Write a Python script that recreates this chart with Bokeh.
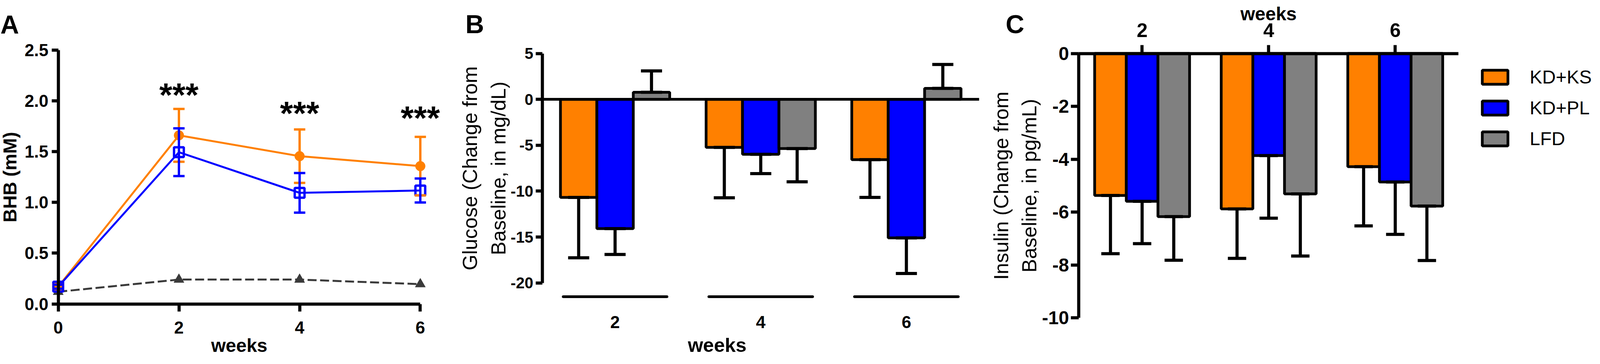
from bokeh.plotting import figure
from bokeh.models import (Range1d, FixedTicker, PrintfTickFormatter, Whisker, TeeHead,
                          ColumnDataSource, Label, Legend, LegendItem, LinearAxis)
from bokeh.transform import dodge
from bokeh.layouts import row
from bokeh.core.properties import value
from bokeh.embed import file_html
from bokeh.resources import INLINE

FONT = "Liberation Sans"
ORANGE = "#FF8000"
BLUE = "#0000FF"
GRAY = "#808080"
DARK = "#3a3a3a"

# ---------------- Panel A data (BHB, mM) ----------------
weeks_a = [0, 2, 4, 6]
bhb_ticks = [0.0, 0.5, 1.0, 1.5, 2.0, 2.5]
bhb_kdks = [0.17, 1.66, 1.455, 1.357]
bhb_kdks_err = [0.02, 0.26, 0.263, 0.288]
bhb_kdpl = [0.17, 1.494, 1.094, 1.117]
bhb_kdpl_err = [0.02, 0.235, 0.195, 0.118]
bhb_lfd = [0.12, 0.24, 0.24, 0.195]
star_weeks = [2, 4, 6]
star_level = [2.107, 1.924, 1.878]
star_text = ["***", "***", "***"]

# ---------------- Panel B data (Glucose change, mg/dL) ----------------
weeks_b = [2, 4, 6]
glu_ticks = [-20, -15, -10, -5, 0, 5]
glu_kdks = [-10.68, -5.23, -6.57]
glu_kdks_err = [6.58, 5.50, 4.11]
glu_kdpl = [-14.09, -5.99, -15.10]
glu_kdpl_err = [2.81, 2.10, 3.88]
glu_lfd = [0.77, -5.36, 1.20]
glu_lfd_err = [2.33, 3.62, 2.60]

# ---------------- Panel C data (Insulin change, pg/mL) ----------------
ins_ticks = [-10, -8, -6, -4, -2, 0]
ins_kdks = [-5.37, -5.88, -4.28]
ins_kdks_err = [2.20, 1.87, 2.24]
ins_kdpl = [-5.59, -3.86, -4.86]
ins_kdpl_err = [1.60, 2.37, 1.98]
ins_lfd = [-6.17, -5.31, -5.77]
ins_lfd_err = [1.65, 2.35, 2.06]

groups = ["KD+KS", "KD+PL", "LFD"]
colors = [ORANGE, BLUE, GRAY]
offsets = [-0.5, 0.0, 0.5]
BAR_W = 0.5
H = 917


def base_fig(width, xr, yr, **kw):
    p = figure(output_backend="svg", toolbar_location=None, width=width, height=H,
               x_range=Range1d(*xr), y_range=Range1d(*yr),
               min_border_left=0, min_border_right=0, min_border_top=0, min_border_bottom=0, **kw)
    p.min_border = 0
    p.xgrid.visible = False
    p.ygrid.visible = False
    p.outline_line_color = None
    p.background_fill_color = "white"
    p.border_fill_color = "white"
    return p


def style_axis(ax, tick_size, lw=8, tick_out=18, standoff=8):
    ax.axis_line_width = lw
    ax.axis_line_color = "black"
    ax.major_tick_line_width = lw
    ax.major_tick_line_color = "black"
    ax.major_tick_out = tick_out
    ax.major_tick_in = 0
    ax.minor_tick_line_color = None
    ax.major_label_text_font = FONT
    ax.major_label_text_font_style = "bold"
    ax.major_label_text_font_size = f"{tick_size}px"
    ax.major_label_text_color = "black"
    ax.major_label_standoff = standoff
    ax.axis_label_text_font = FONT
    ax.axis_label_text_color = "black"


def panel_label(p, x, y, txt):
    p.add_layout(Label(x=x, y=y, text=txt, text_font=FONT, text_font_style="bold",
                       text_font_size="66px", text_color="black", text_baseline="alphabetic",
                       text_align="left"))


# ======================= Panel A =======================
pA = base_fig(1157, (-0.9616, 6.5276), (-0.5316, 2.9905))

xa = pA.xaxis[0]
style_axis(xa, 44, tick_out=19, standoff=26)
xa.fixed_location = 0
xa.bounds = (0, 6)
xa.ticker = FixedTicker(ticks=weeks_a)
xa.axis_label = "weeks"
xa.axis_label_text_font_size = "48px"
xa.axis_label_text_font_style = "bold"
xa.axis_label_standoff = 0

ya = pA.yaxis[0]
style_axis(ya, 44, tick_out=17, standoff=8)
ya.fixed_location = 0
ya.bounds = (0, 2.5)
ya.ticker = FixedTicker(ticks=bhb_ticks)
ya.formatter = PrintfTickFormatter(format="%.1f")
ya.axis_label = "BHB (mM)"
ya.axis_label_text_font_size = "48px"
ya.axis_label_text_font_style = "bold"
ya.axis_label_standoff = 8

srcA = ColumnDataSource(dict(
    week=weeks_a,
    kdks=bhb_kdks,
    kdks_lo=[v - e for v, e in zip(bhb_kdks, bhb_kdks_err)],
    kdks_hi=[v + e for v, e in zip(bhb_kdks, bhb_kdks_err)],
    kdpl=bhb_kdpl,
    kdpl_lo=[v - e for v, e in zip(bhb_kdpl, bhb_kdpl_err)],
    kdpl_hi=[v + e for v, e in zip(bhb_kdpl, bhb_kdpl_err)],
    lfd=bhb_lfd,
))

pA.line("week", "lfd", source=srcA, line_color=DARK, line_width=5, line_dash="23 9")
pA.scatter("week", "lfd", source=srcA, marker="triangle", size=26, fill_color=DARK, line_color=DARK)

pA.line("week", "kdks", source=srcA, line_color=ORANGE, line_width=5)
pA.add_layout(Whisker(source=srcA, base="week", lower="kdks_lo", upper="kdks_hi",
                      line_color=ORANGE, line_width=6, level="glyph",
                      upper_head=TeeHead(size=29, line_color=ORANGE, line_width=6),
                      lower_head=TeeHead(size=29, line_color=ORANGE, line_width=6)))
pA.scatter("week", "kdks", source=srcA, marker="circle", size=25, fill_color=ORANGE, line_color=ORANGE)

pA.line("week", "kdpl", source=srcA, line_color=BLUE, line_width=5)
pA.add_layout(Whisker(source=srcA, base="week", lower="kdpl_lo", upper="kdpl_hi",
                      line_color=BLUE, line_width=6, level="glyph",
                      upper_head=TeeHead(size=29, line_color=BLUE, line_width=6),
                      lower_head=TeeHead(size=29, line_color=BLUE, line_width=6)))
pA.scatter("week", "kdpl", source=srcA, marker="square", size=25, fill_color=None,
           line_color=BLUE, line_width=6)

srcStars = ColumnDataSource(dict(x=star_weeks, y=star_level, t=star_text))
pA.text(x="x", y="y", text="t", source=srcStars, text_font=value(FONT), text_font_style="bold",
        text_font_size="86px", text_align="center", text_baseline="alphabetic",
        y_offset=12, text_color="black")

panel_label(pA, -0.9584, 2.752, "A")


# ======================= Bar panel helper =======================
def bar_source(series, errs):
    d = dict(week=weeks_b)
    for name, vals, err in zip(["kdks", "kdpl", "lfd"], series, errs):
        tips = [v + (e if v >= 0 else -e) for v, e in zip(vals, err)]
        d[name] = vals
        d[name + "_lo"] = [min(v, t) for v, t in zip(vals, tips)]
        d[name + "_hi"] = [max(v, t) for v, t in zip(vals, tips)]
    return ColumnDataSource(d)


def draw_bars(p, src, cap):
    rends = []
    for name, col, off in zip(["kdks", "kdpl", "lfd"], colors, offsets):
        r = p.vbar(x=dodge("week", off), top=name, bottom=0, width=BAR_W,
                   source=src, fill_color=col, line_color="black", line_width=7)
        rends.append(r)
        p.add_layout(Whisker(source=src, base=dodge("week", off),
                             lower=name + "_lo", upper=name + "_hi", level="glyph",
                             line_color="black", line_width=8,
                             upper_head=TeeHead(size=cap, line_color="black", line_width=8),
                             lower_head=TeeHead(size=cap, line_color="black", line_width=8)))
    return rends


# ======================= Panel B =======================
pB = base_fig(1357, (-0.2372, 7.0413), (-28.18, 10.808))

srcB = bar_source([glu_kdks, glu_kdpl, glu_lfd], [glu_kdks_err, glu_kdpl_err, glu_lfd_err])
draw_bars(pB, srcB, 54)

# zero line drawn as a bare axis at y = 0
zero_axis = LinearAxis(fixed_location=0, bounds=(1, 7), ticker=FixedTicker(ticks=[]),
                       axis_line_width=7, axis_line_color="black",
                       major_tick_line_color=None, minor_tick_line_color=None,
                       major_label_text_font_size="0px")
pB.add_layout(zero_axis, "below")

sep_y = -21.5
pB.segment(x0=dodge("week", -0.712), x1=dodge("week", 0.712),
           y0=sep_y, y1=sep_y, source=srcB, line_color="black", line_width=7, line_cap="round")

xb = pB.xaxis[0]
style_axis(xb, 44, tick_out=0, standoff=50)
xb.fixed_location = sep_y
xb.ticker = FixedTicker(ticks=weeks_b)
xb.axis_line_color = None
xb.major_tick_line_color = None
xb.axis_label = "weeks"
xb.axis_label_text_font_size = "50px"
xb.axis_label_text_font_style = "bold"
xb.axis_label_standoff = 12

yb = pB.yaxis[0]
style_axis(yb, 40, tick_out=17, standoff=6)
yb.fixed_location = 1
yb.bounds = (-20, 5)
yb.ticker = FixedTicker(ticks=glu_ticks)
yb.formatter = PrintfTickFormatter(format="%d")
yb.axis_label = "Glucose (Change from\nBaseline, in mg/dL)"
yb.axis_label_text_font_size = "52px"
yb.axis_label_text_font_style = "normal"
yb.axis_label_text_line_height = 1.25
yb.axis_label_standoff = 0

panel_label(pB, -0.0548, 8.214, "B")

# ======================= Panel C =======================
pC = base_fig(1566, (-0.5264, 9.1397), (-11.515, 2.0156), x_axis_location="above")

srcC = bar_source([ins_kdks, ins_kdpl, ins_lfd], [ins_kdks_err, ins_kdpl_err, ins_lfd_err])
rendsC = draw_bars(pC, srcC, 47)

xc = pC.xaxis[0]
style_axis(xc, 50, tick_out=22, standoff=20)
xc.fixed_location = 0
xc.bounds = (1, 7)
xc.ticker = FixedTicker(ticks=weeks_b)
xc.axis_label = "weeks"
xc.axis_label_text_font_size = "48px"
xc.axis_label_text_font_style = "bold"
xc.axis_label_standoff = -4

yc = pC.yaxis[0]
style_axis(yc, 48, tick_out=20, standoff=5)
yc.fixed_location = 1
yc.bounds = (-10, 0)
yc.ticker = FixedTicker(ticks=ins_ticks)
yc.formatter = PrintfTickFormatter(format="%d")
yc.axis_label = "Insulin (Change from\nBaseline, in pg/mL)"
yc.axis_label_text_font_size = "52px"
yc.axis_label_text_font_style = "normal"
yc.axis_label_text_line_height = 1.25
yc.axis_label_standoff = 0

panel_label(pC, -0.1561, 1.1155, "C")

legend = Legend(items=[LegendItem(label=g, renderers=[r]) for g, r in zip(groups, rendsC)],
                location=(1272, 534), margin=0, padding=0, spacing=24,
                glyph_width=82, glyph_height=45, label_standoff=48,
                label_text_font=FONT, label_text_font_size="48px", label_text_color="black",
                border_line_color=None, background_fill_alpha=0)
pC.add_layout(legend)

layout = row(pA, pB, pC)
open("out.html", "w").write(file_html(layout, INLINE))
